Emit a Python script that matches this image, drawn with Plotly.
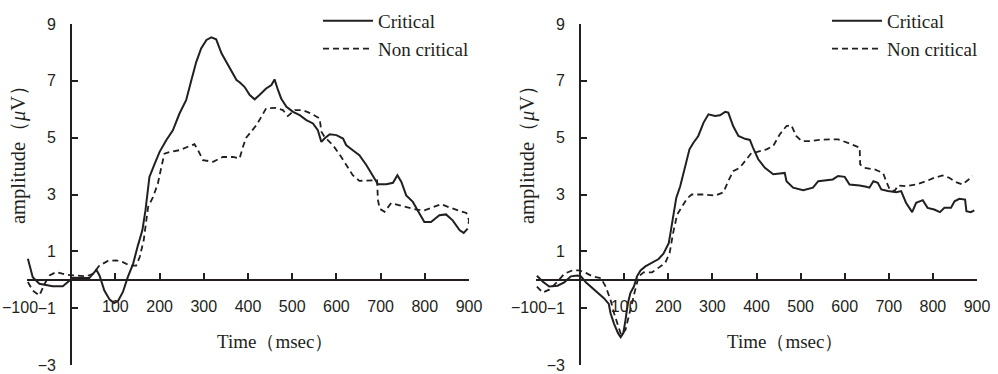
import plotly.graph_objects as go

# ---------------- data ----------------
left_crit_t = [-98, -87, -72, -42, -19, -4, 4, 41, 49, 57, 64, 75, 87, 97, 106, 117, 128, 140, 151, 161,
               168, 177, 189, 200, 215, 230, 245, 260, 272, 283, 294, 306, 317, 328, 340, 351, 362, 374,
               381, 392, 404, 415, 426, 441, 453, 460, 468, 475, 487, 502, 517, 532, 547, 558, 566, 573,
               585, 600, 615, 622, 637, 652, 668, 683, 694, 713, 728, 738, 747, 758, 773, 784, 799, 814,
               833, 848, 863, 879, 888, 897]
left_crit_v = [0.74, 0.09, -0.14, -0.23, -0.23, -0.02, 0.07, 0.06, 0.2, 0.35, 0.15, -0.38, -0.7, -0.82,
               -0.75, -0.43, 0.09, 0.56, 1.21, 1.74, 2.44, 3.62, 4.09, 4.5, 4.91, 5.26, 5.85, 6.32, 7.03,
               7.67, 8.14, 8.44, 8.53, 8.46, 7.97, 7.67, 7.38, 7.03, 6.95, 6.79, 6.5, 6.35, 6.5, 6.73, 6.85,
               7.05, 6.67, 6.38, 6.09, 5.91, 5.79, 5.62, 5.5, 5.26, 4.85, 4.97, 5.12, 5.09, 4.97, 4.74,
               4.56, 4.38, 4.03, 3.62, 3.36, 3.36, 3.41, 3.68, 3.44, 2.97, 2.74, 2.44, 2.03, 2.03, 2.27,
               2.3, 2.09, 1.74, 1.65, 1.8]

left_non_t = [-98, -87, -72, -60, -49, -34, -11, 11, 34, 49, 64, 83, 102, 117, 132, 147, 155, 164, 174,
              185, 196, 204, 211, 223, 245, 264, 279, 287, 298, 321, 343, 366, 381, 389, 396, 404, 419,
              430, 441, 464, 479, 490, 506, 524, 543, 562, 566, 573, 592, 611, 626, 637, 652, 671, 692,
              694, 698, 709, 724, 743, 762, 781, 799, 818, 837, 856, 875, 894, 900, 898]
left_non_v = [-0.08, -0.38, -0.55, -0.14, 0.15, 0.27, 0.18, 0.15, 0.12, 0.21, 0.5, 0.66, 0.68, 0.62,
              0.5, 0.5, 0.8, 1.39, 2.56, 2.91, 3.38, 3.97, 4.44, 4.5, 4.56, 4.68, 4.77, 4.56, 4.21, 4.15,
              4.32, 4.32, 4.27, 4.7, 5.0, 5.15, 5.44, 5.73, 6.03, 6.05, 5.97, 5.76, 5.97, 5.97, 5.85,
              5.68, 5.21, 5.03, 4.74, 4.32, 3.97, 3.68, 3.48, 3.48, 3.5, 2.8, 2.5, 2.39, 2.7, 2.62, 2.54,
              2.47, 2.44, 2.56, 2.66, 2.54, 2.44, 2.35, 2.1, 1.85]

right_crit_t = [-98, -85, -70, -51, -36, -21, -6, 2, 13, 28, 39, 54, 65, 69, 77, 86, 92, 98, 103, 108,
                114, 122, 129, 137, 148, 163, 178, 189, 201, 205, 211, 218, 227, 238, 248, 257, 268,
                280, 291, 306, 317, 329, 336, 347, 359, 374, 385, 392, 404, 419, 438, 453, 464, 468,
                483, 506, 528, 540, 558, 573, 585, 600, 611, 634, 649, 656, 665, 675, 683, 698, 717,
                728, 739, 753, 762, 777, 788, 803, 816, 826, 841, 849, 860, 873, 876, 886, 894]
right_crit_v = [0.14, -0.06, -0.24, -0.21, -0.09, 0.12, 0.15, 0.12, -0.09, -0.29, -0.47, -0.65, -0.85,
                -1.18, -1.55, -1.88, -2.02, -1.88, -1.41, -0.85, -0.47, -0.24, 0.12, 0.33, 0.47, 0.59,
                0.73, 0.92, 1.29, 1.65, 2.24, 2.88, 3.29, 4.0, 4.59, 4.82, 5.06, 5.53, 5.82, 5.76, 5.79,
                5.91, 5.88, 5.41, 5.06, 4.96, 4.92, 4.65, 4.24, 3.94, 3.71, 3.74, 3.76, 3.47, 3.24,
                3.15, 3.24, 3.47, 3.5, 3.53, 3.65, 3.62, 3.35, 3.32, 3.27, 3.24, 3.47, 3.41, 3.18, 3.12,
                3.08, 3.12, 2.71, 2.38, 2.71, 2.8, 2.53, 2.47, 2.38, 2.53, 2.53, 2.76, 2.85, 2.82, 2.41,
                2.38, 2.44]

right_non_t = [-98, -85, -70, -51, -36, -17, -2, 13, 28, 47, 58, 69, 77, 86, 93, 103, 110, 118, 126,
               133, 144, 163, 178, 193, 203, 211, 220, 231, 242, 253, 280, 306, 325, 336, 347, 362, 377,
               389, 400, 423, 438, 453, 468, 479, 490, 502, 524, 543, 566, 585, 607, 634, 635, 645, 668,
               687, 694, 702, 713, 721, 739, 762, 785, 803, 822, 837, 852, 867, 879, 890]
right_non_v = [-0.24, -0.45, -0.35, -0.06, 0.21, 0.33, 0.33, 0.24, 0.12, 0.06, -0.24, -0.71, -1.18,
               -1.65, -1.94, -1.76, -1.29, -0.71, -0.29, 0.12, 0.26, 0.26, 0.41, 0.59, 0.94, 1.65, 2.29,
               2.59, 2.85, 3.0, 3.0, 2.96, 3.08, 3.47, 3.82, 3.94, 4.24, 4.47, 4.49, 4.59, 4.71, 5.12,
               5.41, 5.44, 5.06, 4.88, 4.88, 4.92, 4.94, 4.94, 4.82, 4.65, 4.06, 3.94, 3.88, 3.76, 3.47,
               3.18, 3.12, 3.32, 3.29, 3.35, 3.47, 3.59, 3.67, 3.59, 3.44, 3.35, 3.5, 3.65]

x_tickvals = [-100, 100, 200, 300, 400, 500, 600, 700, 800, 900]
x_ticklabels = ["\u2212100", "100", "200", "300", "400", "500", "600", "700", "800", "900"]
y_tickvals = [-3, -1, 1, 3, 5, 7, 9]
y_ticktext = ["\u22123", "\u22121", "1", "3", "5", "7", "9"]
series_names = ["Critical", "Non critical"]
x_title = "Time\uff08msec\uff09"
y_title = "amplitude\uff08<i>\u03bc</i>V\uff09"

# ---------------- styling ----------------
W, H = 998, 374
INK = "#231f20"
SANS = "Liberation Sans, Arial, sans-serif"
SERIF = "Liberation Serif, Times New Roman, serif"


def px_x(p):
    return p / W


def px_y(p):
    return 1 - p / H


fig = go.Figure()
solid = dict(color=INK, width=2)
dashed = dict(color=INK, width=1.8, dash="6px,4px")

fig.add_trace(go.Scatter(x=left_crit_t, y=left_crit_v, mode="lines", line=solid, name=series_names[0],
                         xaxis="x", yaxis="y", legend="legend"))
fig.add_trace(go.Scatter(x=left_non_t, y=left_non_v, mode="lines", line=dashed, name=series_names[1],
                         xaxis="x", yaxis="y", legend="legend"))
fig.add_trace(go.Scatter(x=right_crit_t, y=right_crit_v, mode="lines", line=solid, name=series_names[0],
                         xaxis="x2", yaxis="y2", legend="legend2"))
fig.add_trace(go.Scatter(x=right_non_t, y=right_non_v, mode="lines", line=dashed, name=series_names[1],
                         xaxis="x2", yaxis="y2", legend="legend2"))

y_dom = [px_y(365), px_y(24)]
zero_pos = px_y(279.75)
tick_font = dict(family=SANS, size=16, color=INK)

# the first x label (-100) is placed as its own text, nudged left as in the reference
x_ticktext = [""] + x_ticklabels[1:]


def xaxis(dom):
    return dict(domain=dom, range=[-100, 900], anchor="free", position=zero_pos, automargin=False,
                showline=True, linecolor=INK, linewidth=2, ticks="inside", ticklen=6, tickwidth=1.6,
                tickcolor=INK, tickvals=x_tickvals, ticktext=x_ticktext, showgrid=False, zeroline=False,
                tickfont=tick_font, ticklabelstandoff=12, fixedrange=True)


def yaxis(pos):
    return dict(domain=y_dom, range=[-3, 9], anchor="free", position=pos, automargin=False,
                showline=True, linecolor=INK, linewidth=2, ticks="inside", ticklen=6, tickwidth=1.6,
                tickcolor=INK, tickvals=y_tickvals, ticktext=y_ticktext, showgrid=False, zeroline=False,
                tickfont=tick_font, ticklabelstandoff=11, fixedrange=True)


left_dom = [px_x(27), px_x(469)]
right_dom = [px_x(536), px_x(977)]

legend_style = dict(font=dict(family=SERIF, size=19, color=INK), bgcolor="rgba(0,0,0,0)",
                    xanchor="left", yanchor="top", tracegroupgap=0, itemwidth=50)

annotations = []
for xr in ("x", "x2"):
    annotations.append(dict(text=x_ticklabels[0], x=x_tickvals[0], xref=xr, y=px_y(307), yref="paper",
                            xanchor="center", yanchor="middle", xshift=-7, showarrow=False,
                            font=tick_font))
for xpx in (18, 527):
    annotations.append(dict(text=y_title, x=px_x(xpx), y=px_y(150), xref="paper", yref="paper",
                            xanchor="center", yanchor="middle", textangle=-90, showarrow=False,
                            font=dict(family=SERIF, size=20.5, color=INK)))
for xpx in (275, 785):
    annotations.append(dict(text=x_title, x=px_x(xpx), y=px_y(341), xref="paper", yref="paper",
                            xanchor="center", yanchor="middle", showarrow=False,
                            font=dict(family=SERIF, size=19, color=INK)))

fig.update_layout(
    width=W, height=H, autosize=False,
    margin=dict(l=0, r=0, t=0, b=0, autoexpand=False),
    paper_bgcolor="white", plot_bgcolor="white",
    xaxis=xaxis(left_dom),
    yaxis=yaxis(px_x(71.2)),
    xaxis2=xaxis(right_dom),
    yaxis2=yaxis(px_x(580.1)),
    showlegend=True,
    legend=dict(x=px_x(318), y=px_y(2), **legend_style),
    legend2=dict(x=px_x(827), y=px_y(2), **legend_style),
    annotations=annotations,
)

fig.write_html("out.html", config={"displayModeBar": False},
               post_script="document.body.style.margin='0px';")
